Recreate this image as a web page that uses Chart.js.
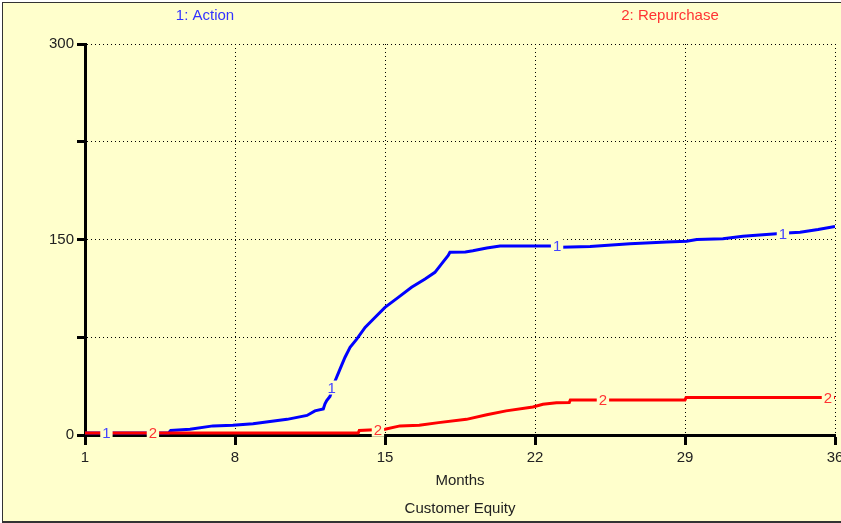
<!DOCTYPE html>
<html>
<head>
<meta charset="utf-8">
<script src="https://cdn.jsdelivr.net/npm/chart.js@4/dist/chart.umd.min.js"></script>
<style>
html,body{margin:0;padding:0;background:#ffffff;}
canvas{display:block;}
</style>
</head>
<body>
<canvas id="c" width="841" height="523"></canvas>
<script>
// ---- data ----
const xTicks = [1, 8, 15, 22, 29, 36];
const yTicks = [0, 75, 150, 225, 300];
const yTickLabels = ['0', '', '150', '', '300'];
const seriesNames = ['1: Action', '2: Repurchase'];
const xTitle = 'Months';
const chartTitle = 'Customer Equity';

const actionMonths = [1, 4.9, 5.0, 5.9, 6.97, 7.9, 8.84, 10.43, 11.36, 11.73, 12.12, 12.2, 12.28, 12.43, 12.67, 12.9, 13.13, 13.37, 13.68, 14.07, 14.53, 15.0, 15.62, 16.24, 16.87, 17.33, 17.64, 17.95, 18.03, 18.75, 19.1, 19.75, 20.37, 22.84, 23.2, 24.57, 26.43, 28.15, 29.08, 29.55, 30.77, 31.7, 32.64, 33.75, 34.37, 35.21, 36];
const actionValues = [1.5, 1.5, 3.5, 4.4, 7, 7.4, 8.7, 12, 15, 18.5, 20, 24, 26.5, 29.6, 41.5, 50.5, 59.5, 67.2, 73.6, 82.5, 90.2, 97.9, 105.6, 113.3, 119.7, 124.8, 131.3, 137.7, 140.2, 140.5, 141.3, 143.5, 145, 145, 144, 144.6, 146.7, 148, 148.7, 150, 150.5, 152.5, 153.6, 155, 155.6, 157.7, 160];

const repurchaseMonths = [1, 13.75, 13.8, 15, 15.7, 16.6, 17.5, 18.8, 19.75, 20.65, 21.9, 22.37, 23.0, 23.6, 23.65, 29, 29.05, 36];
const repurchaseValues = [1.5, 1.5, 3.5, 4.4, 7, 7.5, 9.5, 12, 15.5, 18.5, 21.5, 23.6, 24.8, 25, 26.9, 26.9, 28.7, 28.7];

const actionMarkerMonths = [2, 12.51, 23.03, 33.57];
const actionMarkerValues = [1.5, 36.4, 145.5, 154];
const repurchaseMarkerMonths = [4.17, 14.67, 25.17, 35.67];
const repurchaseMarkerValues = [1.5, 4, 27, 28.5];

// ---- styles ----
const BG = '#ffffcc';
const FONT = 'Liberation Sans, Arial, sans-serif';
const BLUE = '#0000ff';
const RED = '#ff0000';

const toPoints = (xs, ys) => xs.map((x, i) => ({x: x, y: ys[i]}));

const frame = {
  id: 'frame',
  beforeDraw(chart) {
    const ctx = chart.ctx;
    ctx.save();
    ctx.fillStyle = '#ffffff';
    ctx.fillRect(0, 0, chart.width, chart.height);
    ctx.fillStyle = BG;
    ctx.fillRect(3, 3, chart.width - 3, chart.height - 5);
    ctx.fillStyle = '#333333';
    ctx.fillRect(2, 2, chart.width - 2, 1);
    ctx.fillRect(2, 2, 1, chart.height - 4);
    ctx.fillRect(2, chart.height - 2, chart.width - 2, 2);
    ctx.restore();
  }
};

const legendTop = {
  id: 'legendTop',
  afterDraw(chart) {
    const ctx = chart.ctx;
    ctx.save();
    ctx.font = '15px ' + FONT;
    ctx.textAlign = 'center';
    ctx.textBaseline = 'middle';
    ctx.fillStyle = '#3333ff';
    ctx.fillText(seriesNames[0], 205, 16);
    ctx.fillStyle = '#ff3333';
    ctx.fillText(seriesNames[1], 670, 16);
    ctx.restore();
  }
};

const lineMarkers = {
  id: 'lineMarkers',
  afterDatasetsDraw(chart) {
    const ctx = chart.ctx;
    const xs = chart.scales.x, ys = chart.scales.y;
    const groups = [
      {months: actionMarkerMonths, values: actionMarkerValues, text: '1', color: '#4444ff'},
      {months: repurchaseMarkerMonths, values: repurchaseMarkerValues, text: '2', color: '#ff3333'}
    ];
    ctx.save();
    ctx.font = '15px ' + FONT;
    ctx.textAlign = 'center';
    ctx.textBaseline = 'middle';
    groups.forEach(g => {
      g.months.forEach((m, i) => {
        const px = xs.getPixelForValue(m);
        const py = ys.getPixelForValue(g.values[i]);
        const w = ctx.measureText(g.text).width;
        ctx.fillStyle = BG;
        ctx.fillRect(px - w / 2 - 2, py - 7, w + 4, 14);
        ctx.fillStyle = g.color;
        ctx.fillText(g.text, px, py + 1);
      });
    });
    ctx.restore();
  }
};

new Chart(document.getElementById('c'), {
  type: 'line',
  data: {
    datasets: [
      {label: seriesNames[0], data: toPoints(actionMonths, actionValues), borderColor: BLUE, borderWidth: 3, pointRadius: 0, fill: false, tension: 0, order: 1},
      {label: seriesNames[1], data: toPoints(repurchaseMonths, repurchaseValues), borderColor: RED, borderWidth: 3, pointRadius: 0, fill: false, tension: 0, order: 0}
    ]
  },
  options: {
    responsive: false,
    animation: false,
    devicePixelRatio: 1,
    events: [],
    layout: {padding: {left: 0, right: 6, top: 44, bottom: 0}},
    plugins: {legend: {display: false}, tooltip: {enabled: false}},
    scales: {
      x: {
        type: 'linear', min: 1, max: 36,
        afterBuildTicks: s => { s.ticks = xTicks.map(v => ({value: v})); },
        afterFit: s => { s.height = 88; s.paddingLeft = 0; s.paddingRight = 0; },
        ticks: {autoSkip: false, maxRotation: 0, padding: 4, color: '#222222', font: {family: FONT, size: 15}, callback: v => String(v)},
        grid: {color: '#000000', lineWidth: 1, tickLength: 10, tickWidth: 3, tickColor: '#000000', tickBorderDash: []},
        border: {display: true, color: '#000000', width: 3, dash: [1, 3]},
        title: {display: true, text: [xTitle, chartTitle], color: '#222222', font: {family: FONT, size: 15, lineHeight: '28px'}, padding: {top: 0, bottom: 0}}
      },
      y: {
        type: 'linear', min: 0, max: 300,
        afterBuildTicks: s => { s.ticks = yTicks.map(v => ({value: v})); },
        afterFit: s => { s.width = 85; s.paddingTop = 0; s.paddingBottom = 0; },
        ticks: {autoSkip: false, padding: 3, color: '#222222', font: {family: FONT, size: 15}, callback: (v, i) => yTickLabels[i]},
        grid: {color: '#000000', lineWidth: 1, tickLength: 8, tickWidth: 3, tickColor: '#000000', tickBorderDash: []},
        border: {display: true, color: '#000000', width: 3, dash: [1, 3]}
      }
    }
  },
  plugins: [frame, legendTop, lineMarkers]
});
</script>
</body>
</html>
